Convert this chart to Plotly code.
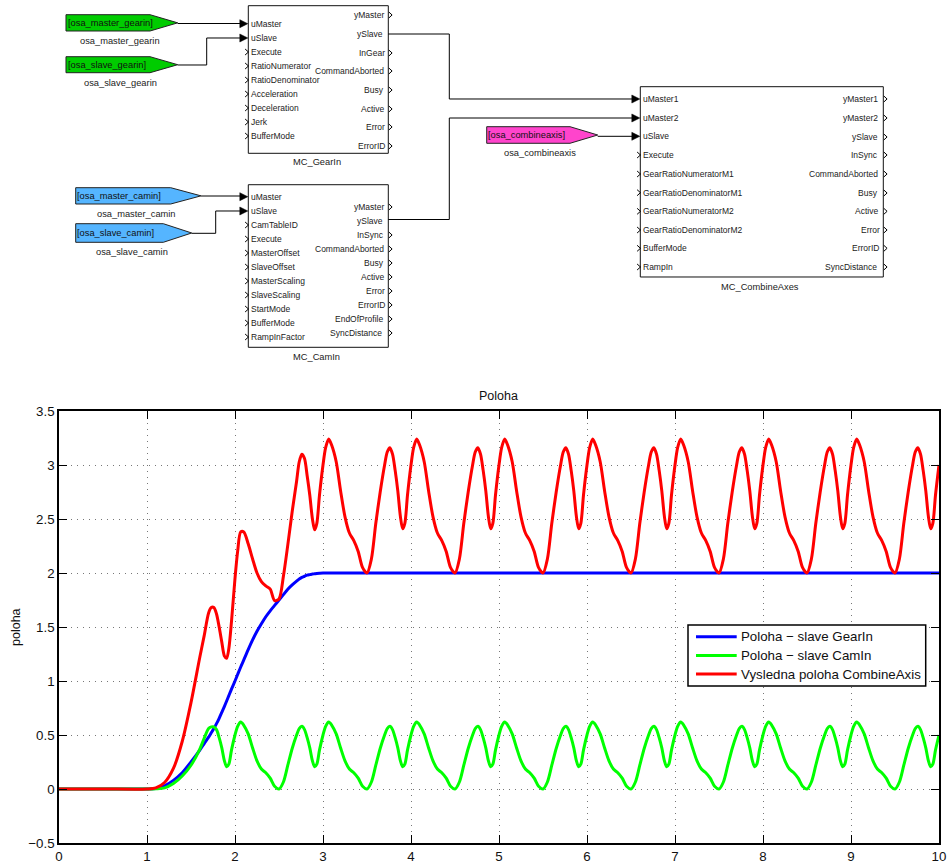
import plotly.graph_objects as go

W, H = 948, 865
FONT = "Liberation Sans, Arial, sans-serif"

# ---------- chart data ----------
time = [
    0.0, 0.5, 1.0, 1.1, 1.2, 1.3, 1.4, 1.5, 1.6, 1.65, 1.7, 1.73, 1.76, 1.79, 1.82, 1.85, 1.88, 1.905, 1.93, 1.96,
    2.0, 2.03, 2.065, 2.1, 2.15, 2.2, 2.25, 2.3, 2.35, 2.4, 2.45,
    2.5, 2.55, 2.6, 2.65, 2.7, 2.73, 2.76, 2.79, 2.82, 2.85, 2.88, 2.905, 2.93, 2.96, 3.0, 3.03, 3.065, 3.1, 3.15, 3.2, 3.25, 3.3, 3.35, 3.4, 3.45,
    3.5, 3.55, 3.6, 3.65, 3.7, 3.73, 3.76, 3.79, 3.82, 3.85, 3.88, 3.905, 3.93, 3.96, 4.0, 4.03, 4.065, 4.1, 4.15, 4.2, 4.25, 4.3, 4.35, 4.4, 4.45,
    4.5, 4.55, 4.6, 4.65, 4.7, 4.73, 4.76, 4.79, 4.82, 4.85, 4.88, 4.905, 4.93, 4.96, 5.0, 5.03, 5.065, 5.1, 5.15, 5.2, 5.25, 5.3, 5.35, 5.4, 5.45,
    5.5, 5.55, 5.6, 5.65, 5.7, 5.73, 5.76, 5.79, 5.82, 5.85, 5.88, 5.905, 5.93, 5.96, 6.0, 6.03, 6.065, 6.1, 6.15, 6.2, 6.25, 6.3, 6.35, 6.4, 6.45,
    6.5, 6.55, 6.6, 6.65, 6.7, 6.73, 6.76, 6.79, 6.82, 6.85, 6.88, 6.905, 6.93, 6.96, 7.0, 7.03, 7.065, 7.1, 7.15, 7.2, 7.25, 7.3, 7.35, 7.4, 7.45,
    7.5, 7.55, 7.6, 7.65, 7.7, 7.73, 7.76, 7.79, 7.82, 7.85, 7.88, 7.905, 7.93, 7.96, 8.0, 8.03, 8.065, 8.1, 8.15, 8.2, 8.25, 8.3, 8.35, 8.4, 8.45,
    8.5, 8.55, 8.6, 8.65, 8.7, 8.73, 8.76, 8.79, 8.82, 8.85, 8.88, 8.905, 8.93, 8.96, 9.0, 9.03, 9.065, 9.1, 9.15, 9.2, 9.25, 9.3, 9.35, 9.4, 9.45,
    9.5, 9.55, 9.6, 9.65, 9.7, 9.73, 9.76, 9.79, 9.82, 9.85, 9.88, 9.905, 9.93, 9.96, 10.0,
]
poloha_gearin = [
    0, 0, 0, .005, .03, .08, .15, .25, .36, .42, .48, .52, .56, .605, .655, .71, .765, .815, .865, .925,
    1.0, 1.06, 1.13, 1.195, 1.29, 1.38, 1.46, 1.53, 1.595, 1.65, 1.70,
    1.75, 1.80, 1.85, 1.89, 1.925, 1.945, 1.96, 1.97, 1.98, 1.985, 1.99, 1.993, 1.996, 1.998, 2.0, 2.0, 2.0, 2.0, 2.0, 2.0, 2.0, 2.0, 2.0, 2.0, 2.0,
    2, 2, 2, 2, 2, 2, 2, 2, 2, 2, 2, 2, 2, 2, 2, 2, 2, 2, 2, 2, 2, 2, 2, 2, 2,
    2, 2, 2, 2, 2, 2, 2, 2, 2, 2, 2, 2, 2, 2, 2, 2, 2, 2, 2, 2, 2, 2, 2, 2, 2,
    2, 2, 2, 2, 2, 2, 2, 2, 2, 2, 2, 2, 2, 2, 2, 2, 2, 2, 2, 2, 2, 2, 2, 2, 2,
    2, 2, 2, 2, 2, 2, 2, 2, 2, 2, 2, 2, 2, 2, 2, 2, 2, 2, 2, 2, 2, 2, 2, 2, 2,
    2, 2, 2, 2, 2, 2, 2, 2, 2, 2, 2, 2, 2, 2, 2, 2, 2, 2, 2, 2, 2, 2, 2, 2, 2,
    2, 2, 2, 2, 2, 2, 2, 2, 2, 2, 2, 2, 2, 2, 2, 2, 2, 2, 2, 2, 2, 2, 2, 2, 2,
    2, 2, 2, 2, 2, 2, 2, 2, 2, 2, 2, 2, 2, 2, 2,
]
poloha_camin = [
    0, 0, 0, .002, .01, .05, .12, .22, .37, .47, .56, .575, .575, .55, .475, .38, .26, .205, .23, .36,
    .50, .58, .62, .59, .51, .38, .26, .185, .15, .10, .025,
    0, .065, .22, .375, .50, .56, .58, .55, .475, .38, .26, .205, .23, .36, .50, .58, .62, .59, .51, .38, .26, .185, .15, .10, .025,
    0, .065, .22, .375, .50, .56, .58, .55, .475, .38, .26, .205, .23, .36, .50, .58, .62, .59, .51, .38, .26, .185, .15, .10, .025,
    0, .065, .22, .375, .50, .56, .58, .55, .475, .38, .26, .205, .23, .36, .50, .58, .62, .59, .51, .38, .26, .185, .15, .10, .025,
    0, .065, .22, .375, .50, .56, .58, .55, .475, .38, .26, .205, .23, .36, .50, .58, .62, .59, .51, .38, .26, .185, .15, .10, .025,
    0, .065, .22, .375, .50, .56, .58, .55, .475, .38, .26, .205, .23, .36, .50, .58, .62, .59, .51, .38, .26, .185, .15, .10, .025,
    0, .065, .22, .375, .50, .56, .58, .55, .475, .38, .26, .205, .23, .36, .50, .58, .62, .59, .51, .38, .26, .185, .15, .10, .025,
    0, .065, .22, .375, .50, .56, .58, .55, .475, .38, .26, .205, .23, .36, .50, .58, .62, .59, .51, .38, .26, .185, .15, .10, .025,
    0, .065, .22, .375, .50, .56, .58, .55, .475, .38, .26, .205, .23, .36, .50,
]
poloha_combine = [
    0, 0, 0, .01, .06, .19, .44, .80, 1.22, 1.42, 1.63, 1.68, 1.68, 1.62, 1.50, 1.36, 1.23, 1.21, 1.30, 1.55,
    1.95, 2.2, 2.38, 2.38, 2.27, 2.13, 2.0, 1.92, 1.88, 1.85, 1.745,
    1.76, 1.97, 2.26, 2.57, 2.85, 3.03, 3.10, 3.06, 2.9, 2.72, 2.50, 2.40, 2.46, 2.72, 3.0, 3.16, 3.24, 3.18, 3.03, 2.76, 2.52, 2.37, 2.30, 2.20, 2.05,
    2.0, 2.13, 2.46, 2.75, 3.0, 3.12, 3.16, 3.10, 2.95, 2.76, 2.52, 2.41, 2.46, 2.72, 3.0, 3.16, 3.24, 3.18, 3.03, 2.76, 2.52, 2.37, 2.30, 2.20, 2.05,
    2.0, 2.13, 2.46, 2.75, 3.0, 3.12, 3.16, 3.10, 2.95, 2.76, 2.52, 2.41, 2.46, 2.72, 3.0, 3.16, 3.24, 3.18, 3.03, 2.76, 2.52, 2.37, 2.30, 2.20, 2.05,
    2.0, 2.13, 2.46, 2.75, 3.0, 3.12, 3.16, 3.10, 2.95, 2.76, 2.52, 2.41, 2.46, 2.72, 3.0, 3.16, 3.24, 3.18, 3.03, 2.76, 2.52, 2.37, 2.30, 2.20, 2.05,
    2.0, 2.13, 2.46, 2.75, 3.0, 3.12, 3.16, 3.10, 2.95, 2.76, 2.52, 2.41, 2.46, 2.72, 3.0, 3.16, 3.24, 3.18, 3.03, 2.76, 2.52, 2.37, 2.30, 2.20, 2.05,
    2.0, 2.13, 2.46, 2.75, 3.0, 3.12, 3.16, 3.10, 2.95, 2.76, 2.52, 2.41, 2.46, 2.72, 3.0, 3.16, 3.24, 3.18, 3.03, 2.76, 2.52, 2.37, 2.30, 2.20, 2.05,
    2.0, 2.13, 2.46, 2.75, 3.0, 3.12, 3.16, 3.10, 2.95, 2.76, 2.52, 2.41, 2.46, 2.72, 3.0, 3.16, 3.24, 3.18, 3.03, 2.76, 2.52, 2.37, 2.30, 2.20, 2.05,
    2.0, 2.13, 2.46, 2.75, 3.0, 3.12, 3.16, 3.10, 2.95, 2.76, 2.52, 2.41, 2.46, 2.72, 3.0, 3.16, 3.24, 3.18, 3.03, 2.76, 2.52, 2.37, 2.30, 2.20, 2.05,
    2.0, 2.13, 2.46, 2.75, 3.0, 3.12, 3.16, 3.10, 2.95, 2.76, 2.52, 2.41, 2.46, 2.72, 3.0,
]
y_ticks = [-0.5, 0, 0.5, 1, 1.5, 2, 2.5, 3, 3.5]
y_tick_labels = ["−0.5", "0", "0.5", "1", "1.5", "2", "2.5", "3", "3.5"]
series_names = ["Poloha − slave GearIn", "Poloha − slave CamIn", "Vysledna poloha CombineAxis"]

# ---------- diagram text ----------
gearin_inputs = ["uMaster", "uSlave", "Execute", "RatioNumerator", "RatioDenominator",
                 "Acceleration", "Deceleration", "Jerk", "BufferMode"]
gearin_outputs = ["yMaster", "ySlave", "InGear", "CommandAborted", "Busy", "Active", "Error", "ErrorID"]
camin_inputs = ["uMaster", "uSlave", "CamTableID", "Execute", "MasterOffset", "SlaveOffset",
                "MasterScaling", "SlaveScaling", "StartMode", "BufferMode", "RampInFactor"]
camin_outputs = ["yMaster", "ySlave", "InSync", "CommandAborted", "Busy", "Active", "Error",
                 "ErrorID", "EndOfProfile", "SyncDistance"]
combine_inputs = ["uMaster1", "uMaster2", "uSlave", "Execute", "GearRatioNumeratorM1",
                  "GearRatioDenominatorM1", "GearRatioNumeratorM2", "GearRatioDenominatorM2",
                  "BufferMode", "RampIn"]
combine_outputs = ["yMaster1", "yMaster2", "ySlave", "InSync", "CommandAborted", "Busy", "Active",
                   "Error", "ErrorID", "SyncDistance"]

# ---------- diagram layout (page pixels) ----------
BLOCKS = [
    dict(name="MC_GearIn", box=(248.3, 5.7, 388.3, 153.3), cap=(316.7, 161.7),
         inputs=gearin_inputs, in_y=[23.7, 38, 52, 66, 80, 94, 108, 122, 136], solid=2,
         outputs=gearin_outputs, out_y=[15, 34, 53, 71, 90, 109, 127, 146],
         out_r=[383.5, 382.5, 385, 383.5, 383.5, 383.5, 385, 385], wired={"ySlave"}),
    dict(name="MC_CamIn", box=(248.3, 184.7, 388.3, 347.3), cap=(316.7, 356.7),
         inputs=camin_inputs, in_y=[196.7, 211, 225, 239, 253, 267, 281, 295, 309, 323, 337], solid=2,
         outputs=camin_outputs, out_y=[207, 221, 235, 249, 263, 277, 291, 305, 319, 333],
         out_r=[383.5, 382.5, 383.5, 383.5, 383.5, 383.5, 385, 384.5, 382.5, 382], wired={"ySlave"}),
    dict(name="MC_CombineAxes", box=(640.3, 86.7, 883.3, 277), cap=(760, 287),
         inputs=combine_inputs, in_y=[99, 118, 136.3, 155, 174, 192.7, 211.3, 230, 248.3, 267], solid=3,
         outputs=combine_outputs, out_y=[99, 118, 137, 155, 174, 193, 211.3, 230, 248.3, 267],
         out_r=[877.7, 877.7, 877.7, 877.7, 878.3, 878.3, 878.3, 880, 879, 876.7], wired=set()),
]
GOTOS = [
    dict(tag="osa_master_gearin", color="#00CC00", x0=66, body=150, tip=177.7, y0=14.7, y1=31, cap=(120.3, 41)),
    dict(tag="osa_slave_gearin", color="#00CC00", x0=66, body=150, tip=177.7, y0=56.7, y1=72.7, cap=(120.3, 82.7)),
    dict(tag="osa_master_camin", color="#55B5FF", x0=75.7, body=170.7, tip=201, y0=187.7, y1=204, cap=(136.3, 213.7)),
    dict(tag="osa_slave_camin", color="#55B5FF", x0=75.7, body=163.3, tip=191.7, y0=223.7, y1=242.3, cap=(131.7, 252)),
    dict(tag="osa_combineaxis", color="#FF44CC", x0=486.7, body=570, tip=597.7, y0=126.7, y1=143.3, cap=(540, 153)),
]
WIRES = [
    [(177.7, 23.5), (240, 23.5)],
    [(177.7, 65), (206.7, 65), (206.7, 38), (240, 38)],
    [(201, 196), (240, 196)],
    [(191.7, 233.3), (215.7, 233.3), (215.7, 211), (240, 211)],
    [(388.3, 34), (449.3, 34), (449.3, 99), (632, 99)],
    [(388.3, 219.5), (449.3, 219.5), (449.3, 118), (632, 118)],
    [(597.7, 136.3), (632, 136.3)],
]

PLOT_L, PLOT_R, PLOT_T, PLOT_B = 59, 939, 411, 843
LEGEND_BOX = (688, 625, 925.7, 686)
LEGEND_ROW_Y = [636.7, 655.5, 674]
LEGEND_LINE_X = (696, 736.7)
LEGEND_TEXT_X = 741
SERIES_COLORS = ["#0000FF", "#00FF00", "#FF0000"]


def fx(x):
    return x / W


def fy(y):
    return 1 - y / H


def path(points, close=False):
    s = "M " + " L ".join(f"{fx(x):.5f} {fy(y):.5f}" for x, y in points)
    return s + (" Z" if close else "")


shapes, notes = [], []


def add_path(points, close=False, fill=None, color="#000", width=1):
    shapes.append(dict(type="path", xref="paper", yref="paper", path=path(points, close),
                       line=dict(color=color, width=width),
                       fillcolor=fill if fill else "rgba(0,0,0,0)"))


def add_text(x, y, text, anchor="left", size=8.5, color="#222"):
    notes.append(dict(xref="paper", yref="paper", x=fx(x), y=fy(y), text=text, showarrow=False,
                      xanchor=anchor, yanchor="middle", align=anchor,
                      font=dict(family=FONT, size=size, color=color),
                      borderpad=0, borderwidth=0))


for b in BLOCKS:
    x0, y0, x1, y1 = b["box"]
    add_path([(x0, y0), (x1, y0), (x1, y1), (x0, y1)], close=True, fill="#fff", color="#111", width=1)
    add_text(b["cap"][0], b["cap"][1], b["name"], anchor="center", size=9.3)
    for i, (label, y) in enumerate(zip(b["inputs"], b["in_y"])):
        add_text(x0 + 2.8, y, label)
        if i < b["solid"]:
            add_path([(x0 - 8.5, y - 4), (x0 - 0.5, y), (x0 - 8.5, y + 4)], close=True, fill="#000", width=0.5)
        else:
            add_path([(x0 - 3.2, y - 3), (x0 + 0.2, y), (x0 - 3.2, y + 3)], width=1)
    for label, y, r in zip(b["outputs"], b["out_y"], b["out_r"]):
        add_text(r, y, label, anchor="right")
        if label not in b["wired"]:
            add_path([(x1 + 0.5, y - 3), (x1 + 3.8, y), (x1 + 0.5, y + 3)], width=1)

for g in GOTOS:
    ym = (g["y0"] + g["y1"]) / 2
    add_path([(g["x0"], g["y0"]), (g["body"], g["y0"]), (g["tip"], ym), (g["body"], g["y1"]), (g["x0"], g["y1"])],
             close=True, fill=g["color"], color="#222", width=1)
    add_text(g["x0"] + 1.5, ym + 0.4, "[" + g["tag"] + "]", size=9.3, color="#111")
    add_text(g["cap"][0], g["cap"][1], g["tag"], anchor="center", size=9.3)

for w in WIRES:
    add_path(w, width=1)

# drawn legend, so that its rows keep the tight spacing of the reference
lx0, ly0, lx1, ly1 = LEGEND_BOX
add_path([(lx0, ly0), (lx1, ly0), (lx1, ly1), (lx0, ly1)], close=True, fill="#fff", color="#000", width=1.5)
for name, color, y in zip(series_names, SERIES_COLORS, LEGEND_ROW_Y):
    add_path([(LEGEND_LINE_X[0], y), (LEGEND_LINE_X[1], y)], color=color, width=3)
    add_text(LEGEND_TEXT_X, y, name, size=13.3, color="#111")

# ---------- figure ----------
fig = go.Figure()
for name, ys, color in zip(series_names, [poloha_gearin, poloha_camin, poloha_combine], SERIES_COLORS):
    fig.add_trace(go.Scatter(x=time, y=ys, mode="lines", name=name,
                             line=dict(color=color, width=3, shape="spline", smoothing=0.8)))

axis_style = dict(showline=True, linecolor="#000", linewidth=1.5, mirror="ticks",
                  ticks="inside", ticklen=8, tickwidth=1, tickcolor="#000",
                  showgrid=True, gridcolor="#777777", griddash="1px,5px", gridwidth=1,
                  zeroline=False, tickfont=dict(family=FONT, size=13.3, color="#111"))

fig.update_layout(
    width=W, height=H, margin=dict(l=0, r=0, t=0, b=0, autoexpand=False),
    paper_bgcolor="#fff", plot_bgcolor="#fff",
    showlegend=False,
    xaxis=dict(domain=[fx(PLOT_L), fx(PLOT_R)], range=[0, 10], tickmode="array",
               tickvals=list(range(11)), **axis_style),
    yaxis=dict(domain=[fy(PLOT_B), fy(PLOT_T)], range=[-0.5, 3.5], tickmode="array",
               tickvals=y_ticks, ticktext=y_tick_labels, **axis_style),
    shapes=shapes,
    annotations=notes + [
        dict(xref="paper", yref="paper", x=fx(499), y=fy(396), text="Poloha", showarrow=False,
             xanchor="center", yanchor="middle", font=dict(family=FONT, size=12.5, color="#111")),
        dict(xref="paper", yref="paper", x=fx(16), y=fy(627), text="poloha", showarrow=False,
             textangle=-90, xanchor="center", yanchor="middle", font=dict(family=FONT, size=12.5, color="#111")),
    ],
)

fig.write_html("out.html", config=dict(displayModeBar=False),
               post_script="document.body.style.margin='0';document.body.style.overflow='hidden';")
